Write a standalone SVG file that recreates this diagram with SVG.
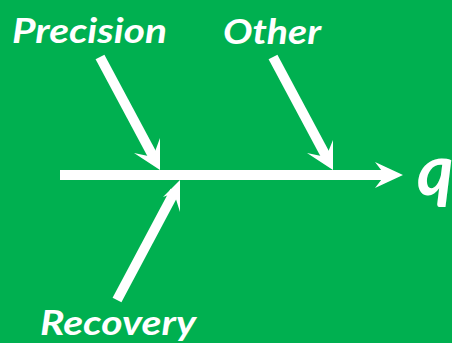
<svg xmlns="http://www.w3.org/2000/svg" width="452" height="343" viewBox="0 0 452 343">
<style>
.lbl{font-family:Lato,"Open Sans","Liberation Sans",sans-serif;font-weight:bold;font-style:italic;fill:#fff}
.shaft{stroke:#fff;stroke-width:10;fill:none;stroke-linecap:butt}
.head{fill:#fff}
</style>
<rect width="452" height="343" fill="#00B050"/>
<g id="connectors">
<line class="shaft" x1="60" y1="175" x2="388" y2="175"/>
<polygon class="head" points="403,175 375,162 385,175 375,188"/>
<line class="shaft" x1="100" y1="57" x2="154" y2="158"/>
<polygon class="head" points="160,170 134,153 153,157 160,138"/>
<line class="shaft" x1="273" y1="57" x2="327" y2="158"/>
<polygon class="head" points="333,170 307,153 326,157 333,140"/>
<line class="shaft" x1="117" y1="300" x2="175" y2="191"/>
<polygon class="head" points="180,180 163,197 174,193 180,212"/>
</g>
<g id="precision"><text class="lbl" x="12" y="43" font-size="34" textLength="155" lengthAdjust="spacingAndGlyphs">Precision</text></g>
<g id="other"><text class="lbl" x="223" y="44" font-size="34" textLength="98" lengthAdjust="spacingAndGlyphs">Other</text></g>
<g id="recovery"><text class="lbl" x="40" y="335" font-size="34" textLength="156" lengthAdjust="spacingAndGlyphs">Recovery</text></g>
<g id="q"><text class="lbl" x="417" y="195" font-size="70">q</text></g>
</svg>
